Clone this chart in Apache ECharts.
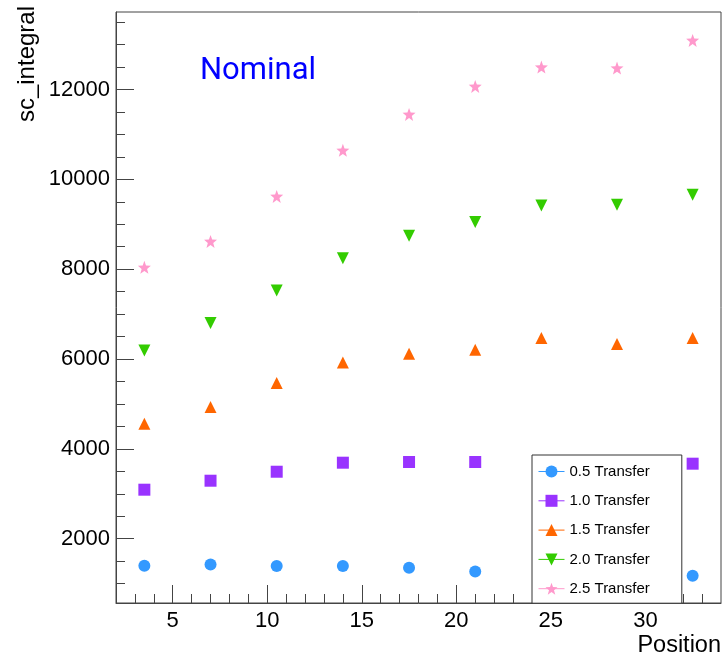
<!DOCTYPE html>
<html>
<head>
<meta charset="utf-8">
<script src="https://cdn.jsdelivr.net/npm/echarts@6/dist/echarts.min.js"></script>
<style>
html,body{margin:0;padding:0;background:#fff;}
#chart{width:725px;height:656px;}
</style>
</head>
<body>
<div id="chart"></div>
<script>
// ---- data ----
const positions = [3.5, 7, 10.5, 14, 17.5, 21, 24.5, 28.5, 32.5];
const seriesNames = ['0.5 Transfer', '1.0 Transfer', '1.5 Transfer', '2.0 Transfer', '2.5 Transfer'];
const transfer05 = [1399, 1428, 1392, 1392, 1354, 1272, 1250, 1225, 1176];
const transfer10 = [3091, 3291, 3491, 3692, 3707, 3707, 3700, 3690, 3670];
const transfer15 = [4560, 4932, 5466, 5925, 6118, 6207, 6467, 6333, 6467];
const transfer20 = [6192, 6801, 7527, 8240, 8745, 9050, 9419, 9435, 9657];
const transfer25 = [8040, 8618, 9620, 10644, 11445, 12068, 12498, 12477, 13092];
const xMajorTicks = [5, 10, 15, 20, 25, 30];
const xMinorTicks = [3, 4, 6, 7, 8, 9, 11, 12, 13, 14, 16, 17, 18, 19, 21, 22, 23, 24, 26, 27, 28, 29, 31, 32, 33];
const yMajorTicks = [2000, 4000, 6000, 8000, 10000, 12000];
const yMinorTicks = [1000, 1500, 2500, 3000, 3500, 4500, 5000, 5500, 6500, 7000, 7500, 8500, 9000, 9500, 10500, 11000, 11500, 12500, 13000, 13500];
const xRange = [2, 34];
const yRange = [569, 13724];

// ---- styles ----
const colors = ['#3399ff', '#9933ff', '#ff6600', '#33cc00', '#ff99cc'];
const starPath = 'path://M50,0 L62,33 L98,35 L70,57 L80,92 L50,72 L20,92 L30,57 L2,35 L38,33 Z';
const symbols = ['circle', 'rect', 'triangle', 'triangle', starPath];
const symbolRotates = [0, 0, 0, 180, 0];
const symbolSizes = [12, 12, 12, 12, 13];
const allValues = [transfer05, transfer10, transfer15, transfer20, transfer25];

const axisColor = '#444';
const labelFont = 'Liberation Sans, Arial, sans-serif';

const series = seriesNames.map((name, i) => ({
  name: name,
  type: 'line',
  xAxisIndex: 0,
  yAxisIndex: 0,
  data: positions.map((x, j) => [x, allValues[i][j]]),
  symbol: symbols[i],
  symbolRotate: symbolRotates[i],
  symbolSize: symbolSizes[i],
  showSymbol: true,
  showAllSymbol: true,
  itemStyle: { color: colors[i], opacity: 1 },
  lineStyle: { color: colors[i], width: 0, opacity: 0 },
  emphasis: { disabled: true },
  z: 2
}));

const chart = echarts.init(document.getElementById('chart'), null, { renderer: 'canvas' });
chart.setOption({
  animation: false,
  backgroundColor: '#fff',
  grid: {
    left: 116, right: 4, top: 12, bottom: 53,
    show: true, borderColor: axisColor, borderWidth: 1, backgroundColor: 'transparent',
    containLabel: false
  },
  xAxis: [
    {
      type: 'value', min: xRange[0], max: xRange[1], position: 'bottom',
      axisLine: { show: true, onZero: false, lineStyle: { color: axisColor } },
      axisTick: { show: true, inside: true, length: 18, customValues: xMajorTicks, lineStyle: { color: axisColor } },
      axisLabel: { show: true, customValues: xMajorTicks, fontSize: 22, fontFamily: labelFont, color: '#000', margin: 7 },
      splitLine: { show: false }
    },
    {
      type: 'value', min: xRange[0], max: xRange[1], position: 'bottom', gridIndex: 0,
      axisLine: { show: false, onZero: false },
      axisTick: { show: true, inside: true, length: 9, customValues: xMinorTicks, lineStyle: { color: axisColor } },
      axisLabel: { show: false },
      splitLine: { show: false }
    }
  ],
  yAxis: [
    {
      type: 'value', min: yRange[0], max: yRange[1], position: 'left',
      axisLine: { show: true, onZero: false, lineStyle: { color: axisColor } },
      axisTick: { show: true, inside: true, length: 18, customValues: yMajorTicks, lineStyle: { color: axisColor } },
      axisLabel: { show: true, customValues: yMajorTicks, fontSize: 22, fontFamily: labelFont, color: '#000', margin: 6, formatter: v => String(v) },
      splitLine: { show: false }
    },
    {
      type: 'value', min: yRange[0], max: yRange[1], position: 'left', gridIndex: 0,
      axisLine: { show: false, onZero: false },
      axisTick: { show: true, inside: true, length: 9, customValues: yMinorTicks, lineStyle: { color: axisColor } },
      axisLabel: { show: false },
      splitLine: { show: false }
    }
  ],
  legend: {
    orient: 'vertical',
    left: 532, top: 455,
    width: 151,
    padding: [9, 32, 7, 6],
    backgroundColor: '#fff',
    borderColor: '#333', borderWidth: 1, borderRadius: 0,
    itemWidth: 26, itemHeight: 15, itemGap: 14.3,
    lineStyle: { opacity: 1, width: 1 },
    textStyle: { fontSize: 15, fontFamily: labelFont, color: '#000', lineHeight: 15 },
    data: seriesNames,
    selectedMode: false,
    z: 10
  },
  graphic: [
    { type: 'text', x: 200, y: 71, style: { text: 'Nominal', font: '31px Roboto, sans-serif', fill: '#0000ff', textAlign: 'left', textVerticalAlign: 'middle' }, z: 20 },
    { type: 'text', x: 721, y: 646, style: { text: 'Position', font: '23.5px Liberation Sans, Arial, sans-serif', fill: '#000', textAlign: 'right', textVerticalAlign: 'middle' }, z: 20 },
    { type: 'text', x: 27, y: 6, rotation: Math.PI / 2, style: { text: 'sc_integral', font: '24px Liberation Sans, Arial, sans-serif', fill: '#000', textAlign: 'right', textVerticalAlign: 'middle' }, z: 20 }
  ],
  series: series
});
</script>
</body>
</html>
